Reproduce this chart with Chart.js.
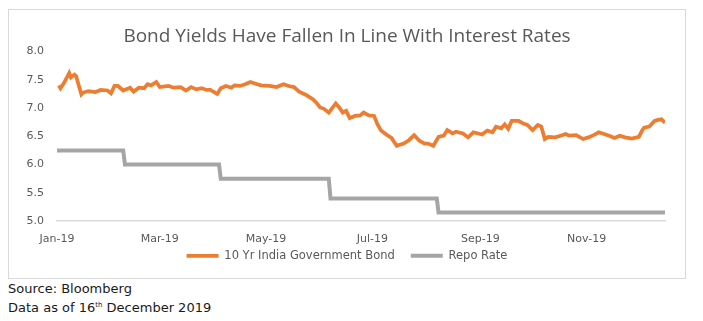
<!DOCTYPE html>
<html>
<head>
<meta charset="utf-8">
<script src="https://cdn.jsdelivr.net/npm/chart.js@4.4.1/dist/chart.umd.min.js"></script>
<style>
  body { margin: 0; background: #fff; width: 703px; height: 321px; overflow: hidden; font-family: 'DejaVu Sans', sans-serif; }
  .frame { position: absolute; left: 8px; top: 9px; width: 676px; height: 268px; border: 1px solid #d9d9d9; }
  .frame canvas { display: block; }
  .note { position: absolute; left: 8px; font-size: 13px; color: #1a1a1a; white-space: nowrap; }
  .note sup { font-size: 7px; vertical-align: 5px; }
</style>
</head>
<body>
<div class="frame"><canvas id="yieldChart" width="676" height="268"></canvas></div>
<div class="note" style="top:281px">Source: Bloomberg</div>
<div class="note" style="top:300px">Data as of 16<sup>th</sup> December 2019</div>
<script>
// x values are days counted from 1 Jan 2019
const bondDays = [
  1, 2, 4, 7, 8, 10, 11, 14, 15, 18, 22, 25, 29, 31, 33, 35, 38, 42, 44, 47,
  50, 52, 54, 57, 59, 64, 67, 71, 74, 77, 80, 83, 86, 88, 92, 94, 97, 100, 102, 105,
  108, 111, 114, 117, 122, 126, 130, 133, 136, 139, 143, 147, 149, 151, 153, 156, 160, 162, 164, 166,
  168, 171, 174, 176, 179, 182, 184, 186, 189, 192, 195, 199, 202, 205, 208, 211, 213, 216, 219, 222,
  224, 227, 229, 233, 236, 239, 244, 247, 250, 252, 255, 257, 259, 261, 265, 268, 270, 273, 276, 278,
  280, 282, 286, 289, 292, 294, 298, 302, 305, 308, 311, 314, 317, 320, 323, 326, 330, 334, 336, 337,
  340, 343, 345, 347, 349
];
const bondYields = [
  7.40, 7.35, 7.44, 7.62, 7.54, 7.59, 7.56, 7.24, 7.27, 7.30, 7.28, 7.32, 7.31, 7.26, 7.39, 7.39, 7.31, 7.36, 7.29, 7.36,
  7.35, 7.42, 7.40, 7.46, 7.37, 7.39, 7.36, 7.37, 7.31, 7.37, 7.33, 7.35, 7.32, 7.32, 7.25, 7.35, 7.39, 7.36, 7.40, 7.39,
  7.42, 7.46, 7.43, 7.40, 7.39, 7.37, 7.42, 7.39, 7.37, 7.29, 7.23, 7.15, 7.09, 7.01, 6.99, 6.92, 7.08, 7.01, 6.92, 6.95,
  6.82, 6.86, 6.87, 6.92, 6.87, 6.86, 6.71, 6.60, 6.53, 6.47, 6.33, 6.37, 6.43, 6.52, 6.42, 6.37, 6.37, 6.33, 6.49, 6.51,
  6.61, 6.55, 6.58, 6.55, 6.48, 6.57, 6.53, 6.60, 6.57, 6.67, 6.64, 6.71, 6.63, 6.77, 6.77, 6.72, 6.70, 6.61, 6.70, 6.67,
  6.45, 6.49, 6.48, 6.51, 6.54, 6.51, 6.52, 6.45, 6.48, 6.52, 6.57, 6.54, 6.51, 6.47, 6.51, 6.48, 6.46, 6.49, 6.61, 6.65,
  6.67, 6.77, 6.79, 6.80, 6.74
];

const repoDays = [0, 38, 39, 93, 94, 156, 157, 218, 219, 349];
const repoRates = [6.25, 6.25, 6.00, 6.00, 5.75, 5.75, 5.40, 5.40, 5.15, 5.15];

const monthTicks = [0, 59, 120, 181, 243, 304];
const monthLabels = ['Jan-19', 'Mar-19', 'May-19', 'Jul-19', 'Sep-19', 'Nov-19'];

const textColor = '#595959';
const tickFont = { family: "'DejaVu Sans', sans-serif", size: 11 };

const toPoints = (xs, ys) => xs.map((x, i) => ({ x: x, y: ys[i] }));

// pull the legend row up, closer to the month labels
const legendLift = {
  id: 'legendLift',
  afterLayout(chart) {
    chart.legend.top -= 13;
    chart.legend.bottom -= 13;
  }
};

const ctx = document.getElementById('yieldChart').getContext('2d');
new Chart(ctx, {
  type: 'line',
  data: {
    datasets: [
      {
        label: '10 Yr India Government Bond',
        data: toPoints(bondDays, bondYields),
        borderColor: '#ED7D31',
        backgroundColor: '#ED7D31',
        borderWidth: 3.75,
        pointRadius: 0,
        tension: 0
      },
      {
        label: 'Repo Rate',
        data: toPoints(repoDays, repoRates),
        borderColor: '#A5A5A5',
        backgroundColor: '#A5A5A5',
        borderWidth: 4,
        pointRadius: 0,
        tension: 0
      }
    ]
  },
  plugins: [legendLift],
  options: {
    responsive: false,
    animation: false,
    devicePixelRatio: 1,
    layout: { padding: 0 },
    plugins: {
      title: {
        display: true,
        text: 'Bond Yields Have Fallen In Line With Interest Rates',
        color: textColor,
        font: { family: "'Open Sans', sans-serif", size: 19, weight: 'normal' },
        padding: { top: 15, bottom: 3.7 }
      },
      legend: {
        position: 'bottom',
        maxHeight: 31,
        labels: {
          color: textColor,
          font: { family: "'DejaVu Sans', sans-serif", size: 11.5 },
          usePointStyle: true,
          pointStyle: 'line',
          pointStyleWidth: 32,
          padding: 16
        }
      },
      tooltip: { enabled: false }
    },
    scales: {
      x: {
        type: 'linear',
        min: 0,
        max: 349,
        afterBuildTicks: scale => { scale.ticks = monthTicks.map(v => ({ value: v })); },
        afterFit: scale => { scale.height = 26; },
        ticks: {
          color: textColor,
          font: tickFont,
          padding: 12,
          maxRotation: 0,
          autoSkip: false,
          callback: value => monthLabels[monthTicks.indexOf(value)]
        },
        grid: { display: false, drawTicks: false },
        border: { display: true, color: '#D9D9D9', width: 1.5 }
      },
      y: {
        min: 5,
        max: 8,
        afterFit: scale => { scale.width = 48; },
        ticks: {
          stepSize: 0.5,
          color: textColor,
          font: tickFont,
          padding: 13,
          callback: value => value.toFixed(1)
        },
        grid: { display: false, drawTicks: false },
        border: { display: false }
      },
      // empty right-hand axis, only keeps a margin after the plot
      gap: {
        type: 'linear',
        position: 'right',
        afterFit: scale => { scale.width = 20; },
        ticks: { display: false },
        grid: { display: false, drawTicks: false },
        border: { display: false }
      }
    }
  }
});
</script>
</body>
</html>
